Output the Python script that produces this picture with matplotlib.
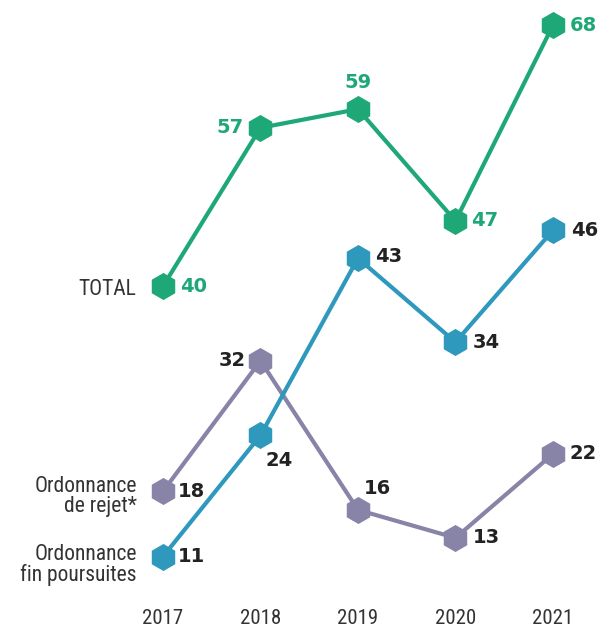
import matplotlib.pyplot as plt

years = [2017, 2018, 2019, 2020, 2021]
total = [40, 57, 59, 47, 68]
fin_poursuites = [11, 24, 43, 34, 46]
rejet = [18, 32, 16, 13, 22]

green = "#1fa877"
blue = "#2e98bd"
purple = "#8884a8"
dark = "#222222"

# label offsets in pixels (dx, dy, ha)
off_total = [(17, 0, "left"), (-17, 0, "right"), (0, 27, "center"), (16, 0, "left"), (17, 0, "left")]
off_fin = [(15, 0, "left"), (5, -25, "left"), (17, 2, "left"), (17, 0, "left"), (18, 0, "left")]
off_rejet = [(15, 0, "left"), (-15, 0, "right"), (6, 21, "left"), (17, 0, "left"), (17, 0, "left")]

fig = plt.figure(figsize=(5.98, 6.32), dpi=100)
ax = fig.add_axes([0, 0, 1, 1])
ax.set_xlim(2015.328, 2021.462)
ax.set_ylim(2.9, 70.71)
ax.axis("off")

num_font = dict(fontsize=14, fontweight="heavy", family="DejaVu Sans")
cond = ["Roboto Condensed", "DejaVu Sans Condensed", "Roboto", "DejaVu Sans"]

def draw(vals, color, offs, txtcolor):
    ax.plot(years, vals, color=color, lw=3, marker="h", ms=19.5, mec=color, mew=0, zorder=3)
    for x, v, (dx, dy, ha) in zip(years, vals, offs):
        ax.annotate(str(v), (x, v), xytext=(dx * 0.72, dy * 0.72), textcoords="offset points",
                    ha=ha, va="center", color=txtcolor, zorder=5, **num_font)

draw(total, green, off_total, green)
draw(rejet, purple, off_rejet, dark)
draw(fin_poursuites, blue, off_fin, dark)

for y in years:
    ax.text(y, 4.3, str(y), ha="center", va="center", fontsize=15, color="#333333", family=cond)

lab = dict(ha="right", va="center", fontsize=15.5, color="#333333", linespacing=0.95, family=cond)
ax.text(2016.73, 39.6, "TOTAL", **lab)
ax.text(2016.73, 17.4, "Ordonnance\nde rejet*", **lab)
ax.text(2016.73, 10.1, "Ordonnance\nfin poursuites", **lab)

fig.savefig("out.png", dpi=100)
